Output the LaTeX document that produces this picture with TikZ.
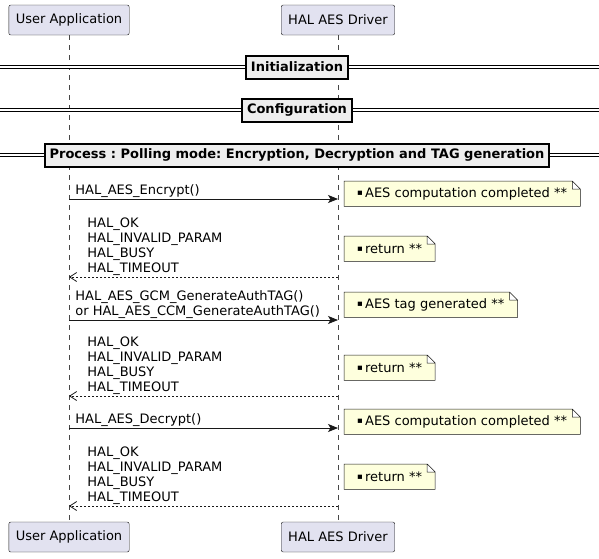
\documentclass[tikz,border=0pt]{standalone}
\usepackage{fontspec}
\setmainfont{DejaVu Sans}
\usetikzlibrary{arrows.meta}
\pgfdeclarelayer{background}
\pgfsetlayers{background,main}
\definecolor{partfill}{HTML}{E2E2F0}
\definecolor{partline}{HTML}{181818}
\definecolor{notefill}{HTML}{FEFFDD}
\definecolor{sepfill}{HTML}{EEEEEE}
\newcommand\notebullet{\raisebox{1.5pt}{\fontsize{8.5}{8.5}\selectfont ▪}\,}
\frenchspacing

\begin{document}
\begin{tikzpicture} [
                x=1pt, y=-1pt,
                every node/.style={font=\fontsize{13}{15}\selectfont},
                participant/.style={draw=partline, fill=partfill, rounded corners=2pt, minimum height=30pt, inner xsep=7pt},
                lifeline/.style={draw=partline!80, line width=0.5pt, dash pattern=on 5pt off 5pt},
                separator/.style={draw=black, line width=2pt, fill=sepfill, minimum height=23pt, inner xsep=5pt, font=\bfseries\fontsize{13}{15}\selectfont},
                sep line/.style={draw=black, line width=1pt, double=white, double distance=2.4pt},
                call/.style={draw=partline, line width=0.8pt, -{Stealth[length=10pt,width=8pt,inset=2.5pt]}},
                reply/.style={draw=partline, line width=0.8pt, dash pattern=on 2pt off 2pt, -{Straight Barb[length=7pt,width=9pt]}},
                msg/.style={align=left, anchor=south west, inner sep=0pt},
                note/.style={anchor=north west, minimum height=25pt, inner xsep=13pt},
                note line/.style={draw=partline, line width=0.5pt, fill=notefill}
            ]
            \useasboundingbox (0,0) rectangle (599,558);
            % participants, top and bottom
            \foreach \x/\y/\name/\txt in {69/20/ua/User Application, 338/20/drv/HAL AES Driver,
                                          69/537/uab/User Application, 338/537/drvb/HAL AES Driver}
                \node[participant] (\name) at (\x,\y) {\txt};
            \path[lifeline] (ua) -- (uab);
            \path[lifeline] (drv) -- (drvb);
            % separators
            \foreach \y/\name/\txt in {67/init/Initialization, 110/conf/Configuration,
                                       155/proc/{Process : Polling mode: Encryption, Decryption and TAG generation}} {
                \coordinate (\name-l) at (0,\y);
                \coordinate (\name-r) at (599,\y);
                \path[sep line] (\name-l) -- (\name-r);
                \node[separator] (\name) at (297,\y) {\txt};
            }
            % end points of the messages on the lifelines
            \foreach \i/\y in {1/199, 2/277, 3/320, 4/396, 5/428, 6/506} {
                \coordinate (ua\i) at (69,\y);
                \coordinate (drv\i) at (338,\y);
            }
            % calls and replies
            \foreach \i/\txt in {1/{HAL\_AES\_Encrypt()},
                                 3/{HAL\_AES\_GCM\_GenerateAuthTAG()\\or HAL\_AES\_CCM\_GenerateAuthTAG()},
                                 5/{HAL\_AES\_Decrypt()}}
                \path[call] (ua\i) -- node[msg, pos=0, xshift=6pt, yshift=1pt] {\txt} (drv\i);
            \foreach \i in {2,4,6}
                \path[reply] (drv\i) -- node[msg, pos=1, xshift=18pt, yshift=1pt]
                    {HAL\_OK\\HAL\_INVALID\_PARAM\\HAL\_BUSY\\HAL\_TIMEOUT} (ua\i);
            % notes
            \foreach \i/\y/\txt in {1/181/AES computation completed **, 2/236/return **,
                                    3/292/AES tag generated **, 4/355/return **,
                                    5/409/AES computation completed **, 6/464/return **}
                \node[note] (note\i) at (344,\y) {\notebullet\txt};
            \begin{pgfonlayer}{background}
                \foreach \i in {1,...,6}
                    \path[note line] (note\i.south west) -- (note\i.north west)
                        -- ([xshift=-8pt]note\i.north east) -- ([yshift=-8pt]note\i.north east)
                        -- (note\i.south east) -- cycle
                        ([xshift=-8pt]note\i.north east) |- ([yshift=-8pt]note\i.north east);
            \end{pgfonlayer}
        \end{tikzpicture}
\end{document}
